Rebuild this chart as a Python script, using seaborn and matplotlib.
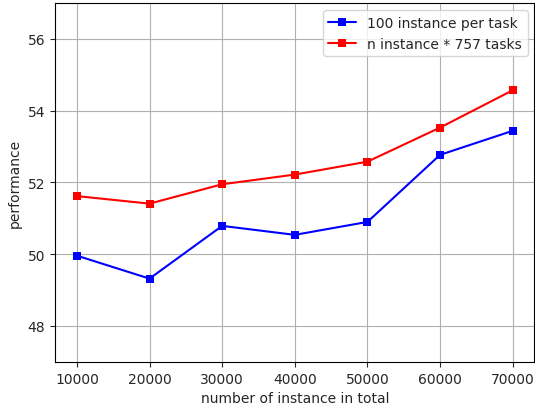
import pandas as pd
import seaborn as sns
import matplotlib
matplotlib.use('Agg')
import matplotlib.pyplot as plt

sns.set_style('ticks')
plt.rcParams['font.family'] = ['DejaVu Sans']

# dados
total_instancias = [10000, 20000, 30000, 40000, 50000, 60000, 70000]
perf_100_por_tarefa = [49.96, 49.32, 50.79, 50.54, 50.90, 52.77, 53.44]
perf_n_757_tarefas = [51.62, 51.41, 51.95, 52.22, 52.58, 53.53, 54.57]

rotulo_azul = '100 instance per task'
rotulo_vermelho = 'n instance * 757 tasks'

df = pd.DataFrame({
    'total': total_instancias * 2,
    'performance': perf_100_por_tarefa + perf_n_757_tarefas,
    'serie': [rotulo_azul] * len(total_instancias) + [rotulo_vermelho] * len(total_instancias),
})

fig, ax = plt.subplots(figsize=(5.35, 4.1), dpi=100)
fig.subplots_adjust(left=0.103, right=0.999, top=0.99, bottom=0.115)

sns.lineplot(data=df, x='total', y='performance', hue='serie',
             palette={rotulo_azul: 'blue', rotulo_vermelho: 'red'},
             marker='s', markersize=6, markeredgewidth=0, linewidth=1.5,
             ax=ax)

ax.set_ylim(47, 57)
ax.set_yticks([48, 50, 52, 54, 56])
ax.set_xticks(total_instancias)
ax.grid(True, color='#b0b0b0', linewidth=0.8)
ax.set_xlabel('number of instance in total', fontsize=10)
ax.set_ylabel('performance', fontsize=10)
ax.tick_params(labelsize=10)
for lado in ax.spines.values():
    lado.set_visible(True)
    lado.set_linewidth(0.8)
    lado.set_color('black')

ax.legend(loc='upper right', fontsize=10, title=None)

plt.savefig('out.png', dpi=100)
plt.close()
